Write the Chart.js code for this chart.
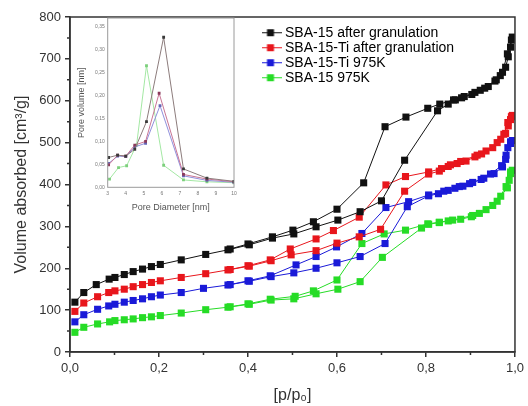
<!DOCTYPE html>
<html>
<head>
<meta charset="utf-8">
<script src="https://cdn.jsdelivr.net/npm/chart.js@4.4.1/dist/chart.umd.min.js"></script>
<style>
  html, body { margin: 0; padding: 0; background: #fff; }
  #wrap { position: relative; width: 528px; height: 406px; }
  #main { position: absolute; left: 0; top: 0; }
  #inset { position: absolute; left: 74px; top: 12px; }
</style>
</head>
<body>
<div id="wrap">
  <canvas id="main" width="528" height="406"></canvas>
  <canvas id="inset" width="166" height="204"></canvas>
</div>
<script>
// sample names (legend order)
const seriesNames = ['SBA-15 after granulation', 'SBA-15-Ti after granulation', 'SBA-15-Ti 975K', 'SBA-15 975K'];

// isotherms: relative pressure p/p0 and volume [cm3/g], adsorption branch then desorption branch
const sbaP = [0.011,0.031,0.059,0.088,0.101,0.122,0.142,0.163,0.183,0.203,0.25,0.305,0.355,0.403,0.455,0.503,0.553,0.602,0.652,0.70,0.752,0.826,0.85,0.866,0.88,0.903,0.922,0.94,0.955,0.967,0.979,0.985,0.99,0.994,
  0.992,0.983,0.972,0.958,0.932,0.91,0.886,0.862,0.831,0.804,0.755,0.708,0.66,0.60,0.547,0.501,0.455,0.40,0.36];
const sbaV = [119,142,161,174,178,185,192,198,204,209,220,233,244,256,272,282,299,315,335,361,458,576,592,602,607,615,625,634,647,660,680,705,728,752,
  745,712,668,650,630,620,610,602,592,582,561,538,404,341,311,291,275,258,246];

const sbaTiP = [0.011,0.031,0.062,0.087,0.101,0.122,0.142,0.163,0.183,0.203,0.25,0.305,0.355,0.403,0.452,0.497,0.553,0.60,0.65,0.698,0.752,0.806,0.83,0.85,0.87,0.89,0.91,0.925,0.95,0.968,0.979,0.985,0.99,0.994,
  0.992,0.984,0.975,0.96,0.935,0.915,0.878,0.855,0.835,0.806,0.754,0.71,0.65,0.592,0.553,0.495,0.45,0.40,0.36];
const sbaTiV = [97,117,132,142,146,150,156,161,166,170,178,187,196,205,218,232,242,260,275,293,384,425,432,443,450,456,466,473,488,508,522,540,555,565,
  562,548,520,500,480,470,455,447,438,430,419,399,322,290,270,246,220,206,197];

const sbaTi975P = [0.011,0.031,0.062,0.087,0.101,0.122,0.142,0.163,0.183,0.203,0.25,0.30,0.355,0.403,0.452,0.503,0.553,0.60,0.652,0.708,0.758,0.806,0.828,0.85,0.865,0.883,0.898,0.924,0.953,0.972,0.979,0.984,0.99,0.994,
  0.99,0.98,0.97,0.945,0.93,0.905,0.875,0.84,0.806,0.761,0.71,0.656,0.599,0.553,0.508,0.45,0.40,0.36];
const sbaTi975V = [72,89,102,110,114,119,123,127,132,136,142,152,160,169,180,189,200,213,228,259,347,373,378,386,391,396,402,412,426,442,460,488,502,505,
  498,470,445,425,415,405,395,384,375,359,345,283,251,228,208,182,170,161];

const sba975P = [0.011,0.031,0.062,0.089,0.101,0.122,0.142,0.163,0.183,0.203,0.25,0.305,0.355,0.403,0.452,0.503,0.553,0.602,0.652,0.702,0.79,0.806,0.83,0.85,0.878,0.902,0.92,0.95,0.968,0.983,0.987,0.99,0.994,
  0.99,0.98,0.96,0.935,0.905,0.86,0.83,0.804,0.754,0.706,0.656,0.60,0.547,0.506,0.45,0.40,0.36];
const sba975V = [47,59,67,72,75,77,79,82,84,87,93,101,107,114,124,127,139,150,168,226,296,305,309,313,317,323,331,350,372,392,410,426,434,
  430,395,360,340,326,315,310,306,291,282,259,172,146,133,126,115,108];

// inset: pore size distribution, diameter [nm] and pore volume
const psdSbaD = [3.05,3.55,4.0,4.5,5.15,6.1,7.2,8.5,10];
const psdSbaV = [0.065,0.070,0.068,0.083,0.143,0.327,0.040,0.020,0.013];
const psdSbaTiD = [3.05,3.55,4.0,4.5,5.1,5.85,7.2,8.5,10];
const psdSbaTiV = [0.049,0.070,0.068,0.092,0.100,0.205,0.028,0.018,0.012];
const psdSbaTi975D = [3.05,3.55,4.0,4.5,5.1,5.9,7.2,8.5,10];
const psdSbaTi975V = [0.052,0.068,0.067,0.088,0.096,0.178,0.025,0.015,0.011];
const psdSba975D = [3.1,3.6,4.05,4.6,5.15,6.1,7.2,8.5,10];
const psdSba975V = [0.018,0.043,0.047,0.092,0.265,0.048,0.016,0.012,0.010];

// axis ticks
const mainXMinor = [0.1, 0.3, 0.5, 0.7, 0.9];
const mainYMinor = [50, 150, 250, 350, 450, 550, 650, 750];

const FONT = "'Liberation Sans', Arial, sans-serif";
Chart.defaults.font.family = FONT;

const pts = (xs, ys) => xs.map((x, i) => ({ x: x, y: ys[i] }));

const mainColors = ['#111111', '#e8161c', '#1a1ad8', '#26dc26'];
const insetLine = ['#8c7c7c', '#c87595', '#8f8fdc', '#a4e8a4'];
const insetDot = ['#3a3a3a', '#8a3a5a', '#6464b4', '#7ccf7c'];

function markerIcon(color) {
  const c = document.createElement('canvas');
  c.width = 22; c.height = 9;
  const g = c.getContext('2d');
  g.strokeStyle = color; g.lineWidth = 1;
  g.beginPath(); g.moveTo(0, 4.5); g.lineTo(22, 4.5); g.stroke();
  g.fillStyle = color;
  g.fillRect(7.5, 1, 7, 7);
  return c;
}

// box around plot area plus minor ticks
const frame = {
  id: 'frame',
  afterDraw(chart, args, opts) {
    const { ctx, chartArea: a, scales } = chart;
    ctx.save();
    ctx.strokeStyle = opts.color;
    ctx.lineWidth = opts.width;
    ctx.strokeRect(a.left, a.top, a.right - a.left, a.bottom - a.top);
    ctx.beginPath();
    (opts.minorX || []).forEach(v => {
      const px = scales.x.getPixelForValue(v);
      ctx.moveTo(px, a.bottom); ctx.lineTo(px, a.bottom + opts.minorLen);
    });
    (opts.minorY || []).forEach(v => {
      const py = scales.y.getPixelForValue(v);
      ctx.moveTo(a.left, py); ctx.lineTo(a.left - opts.minorLen, py);
    });
    ctx.stroke();
    ctx.restore();
  }
};

// move the in-plot legend to the right of the inset
const legendSpot = {
  id: 'legendSpot',
  afterLayout(chart) {
    if (chart.legend) {
      chart.legend.left = 262;
      chart.legend.top = 24.7;
    }
  }
};

const isoSets = [
  [sbaP, sbaV], [sbaTiP, sbaTiV], [sbaTi975P, sbaTi975V], [sba975P, sba975V]
];

new Chart(document.getElementById('main'), {
  type: 'scatter',
  data: {
    datasets: isoSets.map((s, i) => ({
      label: seriesNames[i],
      data: pts(s[0], s[1]),
      showLine: true,
      borderColor: mainColors[i],
      backgroundColor: mainColors[i],
      borderWidth: 1,
      pointStyle: 'rect',
      pointRadius: 5,
      pointBorderWidth: 0,
      tension: 0
    }))
  },
  options: {
    responsive: false,
    animation: false,
    devicePixelRatio: 1,
    layout: { padding: { left: 0, top: 17, right: 7, bottom: 0 } },
    plugins: {
      tooltip: { enabled: false },
      legend: {
        position: 'chartArea',
        align: 'start',
        labels: {
          usePointStyle: true,
          pointStyleWidth: 15,
          padding: 1,
          color: '#222',
          font: { size: 14 },
          generateLabels(chart) {
            return chart.data.datasets.map((ds, i) => ({
              text: ds.label,
              pointStyle: markerIcon(ds.borderColor),
              fillStyle: ds.borderColor,
              strokeStyle: ds.borderColor,
              lineWidth: 0,
              hidden: false,
              datasetIndex: i
            }));
          }
        }
      },
      frame: { color: '#333', width: 1.5, minorLen: 3, minorX: mainXMinor, minorY: mainYMinor }
    },
    scales: {
      x: {
        type: 'linear', min: 0, max: 1,
        afterFit(s) { s.height = 54; },
        ticks: {
          stepSize: 0.2, color: '#333', font: { size: 13 }, padding: 4, maxRotation: 0,
          callback: v => v.toFixed(1).replace('.', ',')
        },
        grid: { drawOnChartArea: false, drawTicks: true, tickLength: 5, color: '#333', lineWidth: 1.5 },
        border: { display: true, color: '#333', width: 1.5 },
        title: { display: true, text: '[p/p\u2080]', color: '#333', font: { size: 16 }, padding: { top: 0, bottom: 0.5 } }
      },
      y: {
        type: 'linear', min: 0, max: 800,
        afterFit(s) { s.width = 70; },
        ticks: { stepSize: 100, color: '#333', font: { size: 13 }, padding: 4 },
        grid: { drawOnChartArea: false, drawTicks: true, tickLength: 5, color: '#333', lineWidth: 1.5 },
        border: { display: true, color: '#333', width: 1.5 },
        title: { display: true, text: 'Volume absorbed [cm\u00b3/g]', color: '#333', font: { size: 16 }, padding: { top: 12.4, bottom: 0 } }
      }
    }
  },
  plugins: [frame, legendSpot]
});

const psdSets = [
  [psdSbaD, psdSbaV], [psdSbaTiD, psdSbaTiV], [psdSbaTi975D, psdSbaTi975V], [psdSba975D, psdSba975V]
];

new Chart(document.getElementById('inset'), {
  type: 'scatter',
  data: {
    datasets: psdSets.map((s, i) => ({
      label: seriesNames[i],
      data: pts(s[0], s[1]),
      showLine: true,
      borderColor: insetLine[i],
      backgroundColor: insetDot[i],
      borderWidth: 1,
      pointStyle: 'rect',
      pointRadius: 2,
      pointBorderWidth: 0,
      tension: 0
    }))
  },
  options: {
    responsive: false,
    animation: false,
    devicePixelRatio: 1,
    layout: { padding: { left: 0, top: 6, right: 6, bottom: 0 } },
    plugins: {
      legend: { display: false },
      tooltip: { enabled: false },
      frame: { color: '#9a9a9a', width: 1, minorLen: 0 }
    },
    scales: {
      x: {
        type: 'linear', min: 3, max: 10,
        afterFit(s) { s.height = 28.7; },
        ticks: { stepSize: 1, color: '#777', font: { size: 5 }, padding: 3, maxRotation: 0 },
        grid: { display: false, drawTicks: false },
        border: { display: false },
        title: { display: true, text: 'Pore Diameter [nm]', color: '#555', font: { size: 9 }, padding: { top: 0, bottom: 2.6 } }
      },
      y: {
        type: 'linear', min: 0, max: 0.369,
        afterFit(s) { s.width = 33.7; },
        ticks: {
          stepSize: 0.05, includeBounds: false, color: '#777', font: { size: 5 }, padding: 3,
          callback: v => v.toFixed(2).replace('.', ',')
        },
        grid: { display: false, drawTicks: false },
        border: { display: false },
        title: { display: true, text: 'Pore volume [nm]', color: '#555', font: { size: 9 }, padding: { top: 2.6, bottom: 0 } }
      }
    }
  },
  plugins: [frame]
});
</script>
</body>
</html>
